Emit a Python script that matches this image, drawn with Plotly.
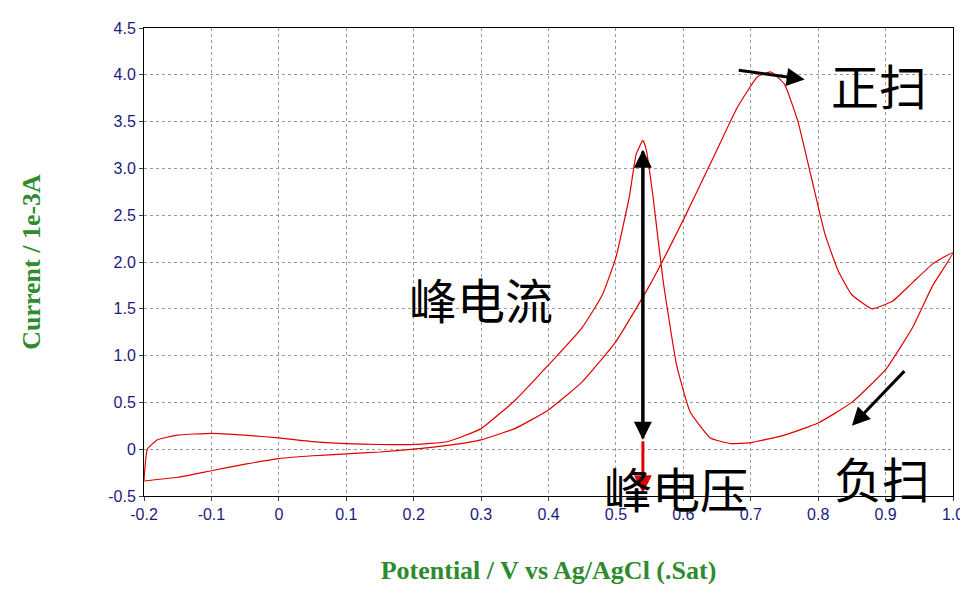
import plotly.graph_objects as go

# forward scan (-0.2 -> 1.0)
fwd_x = [-0.2, -0.15, -0.1, -0.05, 0.0, 0.05, 0.1, 0.15, 0.2, 0.25, 0.3, 0.35, 0.4, 0.45, 0.5,
         0.55, 0.6, 0.65, 0.68, 0.71, 0.73, 0.75, 0.77, 0.79, 0.81, 0.83, 0.85, 0.88, 0.91, 0.94, 0.97, 1.0]
fwd_y = [-0.34, -0.3, -0.23, -0.16, -0.1, -0.07, -0.05, -0.03, 0.0, 0.04, 0.1, 0.22, 0.42, 0.72, 1.15,
         1.75, 2.45, 3.2, 3.65, 3.98, 4.03, 3.9, 3.5, 2.9, 2.3, 1.9, 1.65, 1.5, 1.58, 1.78, 1.98, 2.1]
# reverse scan (1.0 -> -0.2)
rev_x = [1.0, 0.97, 0.94, 0.9, 0.85, 0.8, 0.75, 0.7, 0.67, 0.64, 0.61, 0.59, 0.57, 0.555, 0.545,
         0.54, 0.53, 0.52, 0.5, 0.48, 0.45, 0.4, 0.35, 0.3, 0.25, 0.2, 0.15, 0.1, 0.05, 0.0,
         -0.05, -0.1, -0.15, -0.18, -0.195, -0.2]
rev_y = [2.1, 1.75, 1.3, 0.85, 0.5, 0.28, 0.15, 0.07, 0.06, 0.12, 0.4, 0.9, 1.8, 2.7, 3.2,
         3.3, 3.15, 2.7, 2.05, 1.65, 1.3, 0.9, 0.52, 0.22, 0.08, 0.05, 0.05, 0.06, 0.08, 0.12,
         0.15, 0.17, 0.15, 0.1, 0.0, -0.33]

x_ticks = [-0.2, -0.1, 0, 0.1, 0.2, 0.3, 0.4, 0.5, 0.6, 0.7, 0.8, 0.9, 1.0]
x_labels = ["-0.2", "-0.1", "0", "0.1", "0.2", "0.3", "0.4", "0.5", "0.6", "0.7", "0.8", "0.9", "1.0"]
y_ticks = [-0.5, 0, 0.5, 1.0, 1.5, 2.0, 2.5, 3.0, 3.5, 4.0, 4.5]
y_labels = ["-0.5", "0", "0.5", "1.0", "1.5", "2.0", "2.5", "3.0", "3.5", "4.0", "4.5"]

fig = go.Figure()
fig.add_trace(go.Scatter(x=fwd_x + rev_x[1:], y=fwd_y + rev_y[1:], mode="lines",
                         line=dict(color="#e00000", width=1.2, shape="spline", smoothing=0.4),
                         showlegend=False))

big = dict(family="Noto Sans CJK SC", size=48, color="black")


def arrow(x0, y0, x1, y1, color="black"):
    fig.add_annotation(x=x1, y=y1, ax=x0, ay=y0, xref="x", yref="y", axref="x", ayref="y",
                       text="", showarrow=True, arrowhead=2, arrowsize=1.2, arrowwidth=3,
                       arrowcolor=color)


arrow(0.54, 0.1, 0.54, 3.2)
arrow(0.54, 3.2, 0.54, 0.1)
arrow(0.54, 0.1, 0.54, -0.47, "#e00000")
arrow(0.68, 4.05, 0.78, 3.95)
arrow(0.93, 0.85, 0.85, 0.25)

fig.add_annotation(x=0.3, y=1.62, text="峰电流", showarrow=False, font=big)
fig.add_annotation(x=0.89, y=3.9, text="正扫", showarrow=False, font=big)
fig.add_annotation(x=0.895, y=-0.3, text="负扫", showarrow=False, font=big)
fig.add_annotation(x=0.657, y=-0.06, xref="paper", yref="paper", text="峰电压",
                   showarrow=False, font=big)

tickfont = dict(family="Arial", size=16, color="#1a1a80")
axis_common = dict(showgrid=True, gridcolor="#9a9a9a", griddash="dot", gridwidth=1,
                   showline=True, linecolor="black", mirror=True, ticks="outside", ticklen=4,
                   tickfont=tickfont, zeroline=False)
fig.update_xaxes(range=[-0.2, 1.0], tickvals=x_ticks, ticktext=x_labels, tickangle=0,
                 title=dict(text="<b>Potential / V vs Ag/AgCl (.Sat)</b>", standoff=38,
                            font=dict(family="Liberation Serif", size=26, color="#2e8b2e")),
                 **axis_common)
fig.update_yaxes(range=[-0.5, 4.5], tickvals=y_ticks, ticktext=y_labels,
                 title=dict(text="<b>Current / 1e-3A</b>", standoff=60,
                            font=dict(family="Liberation Serif", size=26, color="#2e8b2e")),
                 **axis_common)
fig.update_layout(width=968, height=591, plot_bgcolor="white", paper_bgcolor="white",
                  margin=dict(l=136, r=20, t=17, b=103))
fig.write_html("out.html")
